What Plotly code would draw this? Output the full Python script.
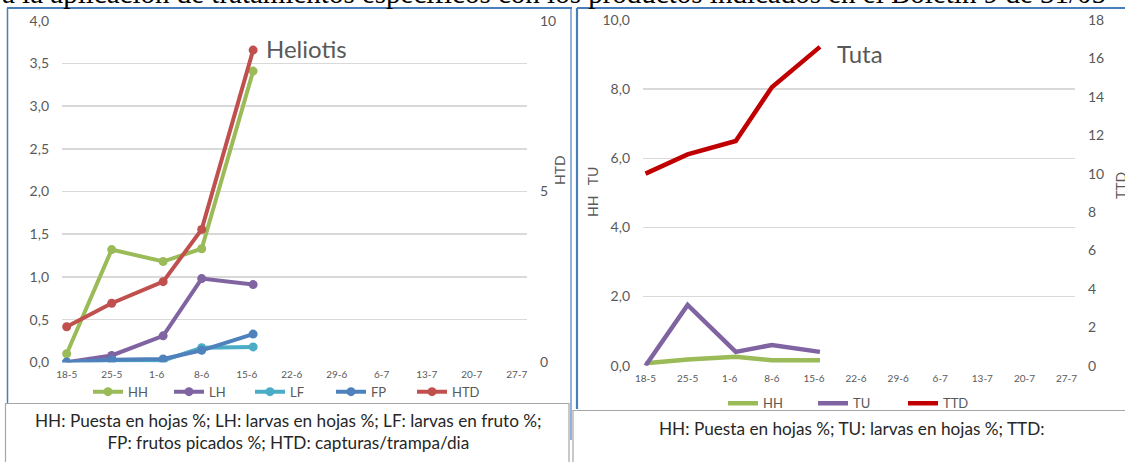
import plotly.graph_objects as go

W, H = 1125, 462

# ---------------- data ----------------
tick_labels = ["18-5", "25-5", "1-6", "8-6", "15-6", "22-6", "29-6", "6-7", "13-7", "20-7", "27-7"]
tick_days = [0, 7, 14, 21, 28, 35, 42, 49, 56, 63, 70]
sample_days = [0, 7, 15, 21, 29]   # days after 18-5 of the five samplings

# Heliotis (left chart)
hel_HH = [0.10, 1.32, 1.18, 1.33, 3.41]
hel_LH = [0.00, 0.08, 0.31, 0.98, 0.91]
hel_LF = [0.00, 0.02, 0.02, 0.17, 0.18]
hel_FP = [0.00, 0.03, 0.04, 0.14, 0.33]
hel_HTD = [1.04, 1.73, 2.36, 3.89, 9.14]

# Tuta (right chart)
tuta_HH = [0.07, 0.18, 0.26, 0.16, 0.16]
tuta_TU = [0.00, 1.76, 0.40, 0.60, 0.40]
tuta_TTD = [10.0, 11.0, 11.7, 14.5, 16.6]

GREEN, PURPLE, TEAL, BLUE, RED, DARKRED = "#9BBB59", "#8064A2", "#4BACC6", "#4F81BD", "#C0504D", "#C00000"
GRAY_TXT = "#595959"
GRID = "#D9D9D9"
FONT = "Lato, Open Sans, sans-serif"


def px(x):
    return x / W


def py(y):
    return 1 - y / H


fig = go.Figure()

# ---------------- left chart traces ----------------
for name, vals, col, ax in [("HH", hel_HH, GREEN, "y"), ("LH", hel_LH, PURPLE, "y"),
                            ("LF", hel_LF, TEAL, "y"), ("FP", hel_FP, BLUE, "y"),
                            ("HTD", hel_HTD, RED, "y2")]:
    fig.add_trace(go.Scatter(x=sample_days, y=vals, name=name, mode="lines+markers",
                             line=dict(color=col, width=4), marker=dict(color=col, size=9),
                             xaxis="x", yaxis=ax, legend="legend"))

# ---------------- right chart traces ----------------
for name, vals, col, ax in [("HH", tuta_HH, GREEN, "y3"), ("TU", tuta_TU, PURPLE, "y3"),
                            ("TTD", tuta_TTD, DARKRED, "y4")]:
    fig.add_trace(go.Scatter(x=sample_days, y=vals, name=name, mode="lines",
                             line=dict(color=col, width=4.5),
                             xaxis="x2", yaxis=ax, legend="legend2"))

L_X = [px(62), px(527)]
L_Y = [py(362.3), py(20.7)]
R_X = [px(643), px(1075)]
R_Y = [py(365.7), py(20)]

xcommon = dict(tickmode="array", tickvals=tick_days, ticktext=tick_labels, showgrid=False,
               zeroline=False, showline=False, ticks="", tickfont=dict(size=10, color=GRAY_TXT, family=FONT),
               ticklabelstandoff=5, fixedrange=True, automargin=False)
ycommon = dict(showline=False, zeroline=False, ticks="", tickfont=dict(size=14, color=GRAY_TXT, family=FONT),
               ticklabelstandoff=12, fixedrange=True, automargin=False)

fig.update_layout(
    width=W, height=H, margin=dict(l=0, r=0, t=0, b=0, autoexpand=False),
    paper_bgcolor="white", plot_bgcolor="white", separators=",.",
    font=dict(family=FONT, color=GRAY_TXT),
    xaxis=dict(domain=L_X, anchor="y", range=[-0.73, 71.6], **xcommon),
    yaxis=dict(domain=L_Y, anchor="x", range=[0, 4], dtick=0.5, tickformat=".1f",
               showgrid=True, gridcolor=GRID, gridwidth=1.5, **ycommon),
    yaxis2=dict(overlaying="y", anchor="x", side="right", range=[0, 10], dtick=5,
                tickformat="d", showgrid=False, **ycommon),
    xaxis2=dict(domain=R_X, anchor="y3", range=[-0.42, 71.4], **xcommon),
    yaxis3=dict(domain=R_Y, anchor="x2", range=[0, 10], dtick=2, tickformat=".1f",
                showgrid=True, gridcolor=GRID, gridwidth=1.5, **ycommon),
    yaxis4=dict(overlaying="y3", anchor="x2", side="right", range=[0, 18], dtick=2,
                tickformat="d", showgrid=False, **ycommon),
    legend=dict(orientation="h", x=px(88), y=py(391.7), xanchor="left", yanchor="middle",
                bgcolor="rgba(0,0,0,0)", font=dict(size=13, color=GRAY_TXT, family=FONT),
                entrywidth=36, entrywidthmode="pixels", itemclick=False, itemdoubleclick=False),
    legend2=dict(orientation="h", x=px(723), y=py(403.3), xanchor="left", yanchor="middle",
                 bgcolor="rgba(0,0,0,0)", font=dict(size=13, color=GRAY_TXT, family=FONT),
                 entrywidth=45, entrywidthmode="pixels", itemclick=False, itemdoubleclick=False),
    showlegend=True,
)

BORDER = "#4A7EBB"
BOX = "#A6A6A6"
P = dict(xref="paper", yref="paper")
shapes = [
    # left chart frame
    dict(type="line", x0=px(7.5), x1=px(7.5), y0=py(8), y1=py(440), line=dict(color=BORDER, width=1.5), **P),
    dict(type="line", x0=px(7), x1=px(572), y0=py(8), y1=py(8), line=dict(color=BORDER, width=2), **P),
    dict(type="line", x0=px(571), x1=px(571), y0=py(8), y1=py(440), line=dict(color=BORDER, width=1.2), **P),
    # right chart frame
    dict(type="line", x0=px(577), x1=px(577), y0=py(8), y1=py(409), line=dict(color=BORDER, width=2.2), **P),
    dict(type="line", x0=px(577), x1=px(1126), y0=py(8), y1=py(8), line=dict(color=BORDER, width=2), **P),
    # text boxes
    dict(type="rect", x0=px(5.5), x1=px(569), y0=py(403.5), y1=py(475), fillcolor="white",
         line=dict(color=BOX, width=1.2), **P),
    dict(type="rect", x0=px(573), x1=px(1130), y0=py(410.5), y1=py(475), fillcolor="white",
         line=dict(color=BOX, width=1.2), **P),
]
fig.update_layout(shapes=shapes)

ann = [
    dict(text="a la aplicación de tratamientos específicos con los productos indicados en el Boletín 9 de 31/05",
         x=px(0), y=py(11), xanchor="left", yanchor="bottom", showarrow=False,
         font=dict(family="Liberation Serif, Times New Roman, serif", size=29, color="black"), **P),
    dict(text="Heliotis", x=px(264), y=py(48), xanchor="left", yanchor="middle", showarrow=False,
         font=dict(size=24, color=GRAY_TXT, family=FONT), **P),
    dict(text="Tuta", x=px(835), y=py(53), xanchor="left", yanchor="middle", showarrow=False,
         font=dict(size=24, color=GRAY_TXT, family=FONT), **P),
    dict(text="HTD", x=px(559), y=py(170), textangle=-90, xanchor="center", yanchor="middle",
         showarrow=False, font=dict(size=14, color=GRAY_TXT, family=FONT), **P),
    dict(text="HH   TU", x=px(592), y=py(192), textangle=-90, xanchor="center", yanchor="middle",
         showarrow=False, font=dict(size=14, color=GRAY_TXT, family=FONT), **P),
    dict(text="TTD", x=px(1120), y=py(186), textangle=-90, xanchor="center", yanchor="middle",
         showarrow=False, font=dict(size=14, color=GRAY_TXT, family=FONT), **P),
    dict(text="HH: Puesta en hojas %; LH: larvas en hojas %; LF: larvas en fruto %;<br>FP: frutos picados %; HTD: capturas/trampa/dia",
         x=px(288), y=py(431), xanchor="center", yanchor="middle", showarrow=False,
         font=dict(size=17.2, color="#262626", family=FONT), **P),
    dict(text="HH: Puesta en hojas %; TU: larvas en hojas %; TTD:",
         x=px(852), y=py(428.5), xanchor="center", yanchor="middle", showarrow=False,
         font=dict(size=17.2, color="#262626", family=FONT), **P),
]
fig.update_layout(annotations=ann)

fig.write_html("out.html", config={"displayModeBar": False, "staticPlot": True},
               post_script="document.body.style.margin='0';document.body.style.overflow='hidden';")
